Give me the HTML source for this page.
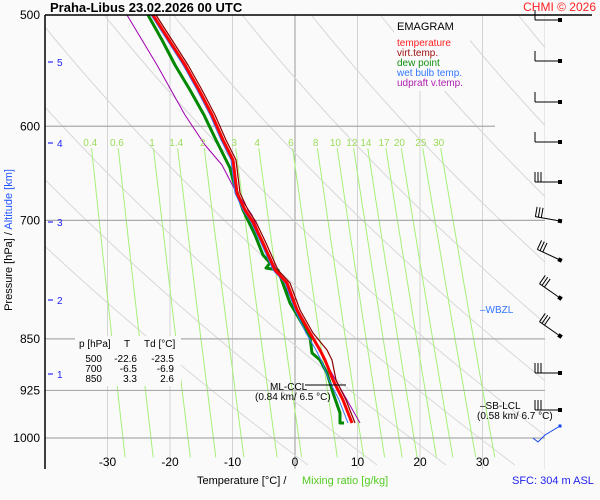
<!DOCTYPE html>
<html><head><meta charset="utf-8"><style>
body{margin:0;background:#fafafa;width:600px;height:500px;overflow:hidden;font-family:"Liberation Sans",Arial,sans-serif}
svg{position:absolute;left:0;top:0}
</style></head><body>
<svg id="s" width="600" height="500" xmlns="http://www.w3.org/2000/svg" font-family="Liberation Sans, Arial, sans-serif">
<defs><clipPath id="cp"><rect x="45" y="15" width="500" height="454"/></clipPath></defs>
<rect width="600" height="500" fill="#fafafa"/>
<g id="grid" clip-path="url(#cp)"></g>
<g id="data" fill="none" stroke-linejoin="round"></g>
<g id="txt"></g>
</svg>
<script>
const NS="http://www.w3.org/2000/svg";
function el(p,t,a,txt){const e=document.createElementNS(NS,t);for(const k in a)e.setAttribute(k,a[k]);if(txt!==undefined)e.textContent=txt;p.appendChild(e);return e;}
const g=document.getElementById('grid'),d=document.getElementById('data'),tx=document.getElementById('txt'),s=document.getElementById('s');
const X=T=>295+6.25*T, Y=p=>15+610.3*Math.log(p/500);
for(let T=-40;T<=40;T+=10){el(g,'line',{x1:X(T),y1:15,x2:X(T),y2:469,stroke:T==0?'#999':'#d4d4d4','stroke-width':1});}
for(let k=-3;k<12;k++){const c=35.3+69*k;let pts=[];for(let y=15;y<=469;y+=6){pts.push((c+0.8*(y-15)+0.25*(y-15)*(y-15)/423).toFixed(1)+','+y);}el(g,'polyline',{points:pts.join(' '),fill:'none',stroke:'#d8d8d8','stroke-width':1});}
const ws=[0.4,0.6,1,1.4,2,3,4,6,8,10,12,14,17,20,25,30];
function td(w,p){const e=w*p/(622+w);const l=Math.log(e/6.112);return 243.5*l/(17.67-l);}
ws.forEach(w=>{let pts=[];for(let p=622;p<=1040;p+=10){pts.push(X(td(w,p)).toFixed(1)+','+Y(p).toFixed(1));}el(g,'polyline',{points:pts.join(' '),fill:'none',stroke:'#a6f07a','stroke-width':1});
el(tx,'text',{x:X(td(w,610)),y:146,'font-size':10,fill:'#9ddc5a','text-anchor':'middle'},String(w));});
[600,700,850,925,1000].forEach(p=>{el(g,'line',{x1:45,y1:Y(p),x2:p==600?495:545,y2:Y(p),stroke:'#aaa','stroke-width':1.2});});
el(tx,'rect',{x:394,y:17,width:76,height:74,fill:'#fafafa'});
el(tx,'rect',{x:75,y:336,width:106,height:50,fill:'#fafafa'});
const R=[[153,15],[169,40],[185,65],[199,90],[212,115],[223,140],[233,160],[237,193],[245,210],[253,222],[263,243],[275,270],[287,283],[297,310],[310,333],[320,350],[325,360],[333,380],[343,400],[352,423]];
const V=R.map(([x,y])=>[x+(y>340&&y<365?7:3),y]);
const G=[[148,15],[162,40],[175,65],[190,90],[204,115],[216,140],[226,160],[230,168],[233,180],[243,210],[255,235],[263,255],[270,263],[266,268],[278,270],[290,303],[310,337],[312,353],[320,360],[327,373],[333,393],[340,413],[340,423],[344,423]];
const B=R.map(([x,y])=>[x-(y>330?4:2),y]);
const P=[[127,15],[157,65],[185,115],[205,145],[222,165],[235,190],[252,215],[263,243],[297,310],[330,370],[360,423]];
const pl=(a,c,w)=>el(d,'polyline',{points:a.map(q=>q.join(',')).join(' '),stroke:c,'stroke-width':w});
pl(P,'#a000b0',1);pl(G,'#008800',3);pl(B,'#3377ff',1);pl(V,'#8b0000',1.2);pl(R,'#ff0000',3);
el(tx,'line',{x1:45,y1:15,x2:45,y2:469,stroke:'#000','stroke-width':1.5});
el(tx,'line',{x1:45,y1:15,x2:592,y2:15,stroke:'#000','stroke-width':1.5});
[500,600,700,850,925,1000].forEach(p=>el(tx,'text',{x:40,y:Y(p)+4,'font-size':12,fill:'#000','text-anchor':'end'},String(p)));
[[5,62],[4,143],[3,222],[2,300],[1,374]].forEach(([k,y])=>{el(tx,'line',{x1:48,y1:y,x2:53,y2:y,stroke:'#00f'});el(tx,'text',{x:57,y:y+4,'font-size':10,fill:'#22f'},String(k));});
[-30,-20,-10,0,10,20,30].forEach(T=>el(tx,'text',{x:X(T),y:466,'font-size':12,fill:'#000','text-anchor':'middle'},String(T)));
const yt=el(tx,'text',{transform:'translate(12,240) rotate(-90)','font-size':11,'text-anchor':'middle'});
el(yt,'tspan',{fill:'#000'},'Pressure [hPa]  /  ');el(yt,'tspan',{fill:'#2255ff'},'Altitude [km]');
el(tx,'text',{x:197,y:484,'font-size':11,fill:'#000'},'Temperature [°C]  /');
el(tx,'text',{x:302,y:484,'font-size':11,fill:'#55cc22'},'Mixing ratio [g/kg]');
el(tx,'text',{x:512,y:484,'font-size':11,fill:'#2222ee'},'SFC: 304 m ASL');
el(tx,'text',{x:50,y:12,'font-size':13,'font-weight':'bold',fill:'#000'},'Praha-Libus    23.02.2026 00 UTC').setAttribute('xml:space','preserve');
el(tx,'text',{x:596,y:11,'font-size':12,fill:'#ff2020','text-anchor':'end'},'CHMI © 2026');
el(tx,'text',{x:397,y:30,'font-size':11,fill:'#000'},'EMAGRAM');
[['temperature','#ff2020'],['virt.temp.','#a01010'],['dew point','#109010'],['wet bulb temp.','#3377ff'],['udpraft v.temp.','#b020b0']].forEach(([t,c],i)=>el(tx,'text',{x:397,y:46+i*10,'font-size':10,fill:c},t));
el(tx,'text',{x:79,y:347,'font-size':10,fill:'#000'},'p [hPa]');
el(tx,'text',{x:124,y:347,'font-size':10,fill:'#000'},'T');
el(tx,'text',{x:144,y:347,'font-size':10,fill:'#000'},'Td [°C]');
[['500','-22.6','-23.5'],['700','-6.5','-6.9'],['850','3.3','2.6']].forEach((r,i)=>{const y=362+i*10;
el(tx,'text',{x:102,y:y,'font-size':10,'text-anchor':'end'},r[0]);el(tx,'text',{x:137,y:y,'font-size':10,'text-anchor':'end'},r[1]);el(tx,'text',{x:174,y:y,'font-size':10,'text-anchor':'end'},r[2]);});
el(tx,'line',{x1:305,y1:385,x2:346,y2:385,stroke:'#000'});
el(tx,'text',{x:270,y:390,'font-size':10},'ML-CCL');
el(tx,'text',{x:255,y:400,'font-size':10},'(0.84 km/ 6.5 °C)');
el(tx,'text',{x:480,y:409,'font-size':10},'–SB-LCL');
el(tx,'text',{x:477,y:419,'font-size':10},'(0.58 km/ 6.7 °C)');
el(tx,'text',{x:480,y:313,'font-size':10,fill:'#3377ff'},'–WBZL');
[[20,0],[61,0],[102,0],[142,0],[182,0],[221,10],[260,25],[298,35],[336,35],[373,0],[410,0]].forEach(([y,a])=>{const gg=el(tx,'g',{transform:`translate(560,${y}) rotate(${a})`,stroke:'#000','stroke-width':1,fill:'none'});
el(gg,'line',{x1:0,y1:0,x2:-25,y2:0});el(gg,'rect',{x:-1.5,y:-1.5,width:3,height:3,fill:'#000'});
const n=y<150?1:3;for(let i=0;i<n;i++)el(gg,'line',{x1:-25+i*3,y1:0,x2:-25+i*3,y2:-10});});
el(tx,'polyline',{points:'560,426 545,435 538,442 533,438',stroke:'#1144ee',fill:'none'});
el(tx,'rect',{x:558.5,y:424.5,width:3,height:3,fill:'#1144ee'});
</script>
</body></html>
